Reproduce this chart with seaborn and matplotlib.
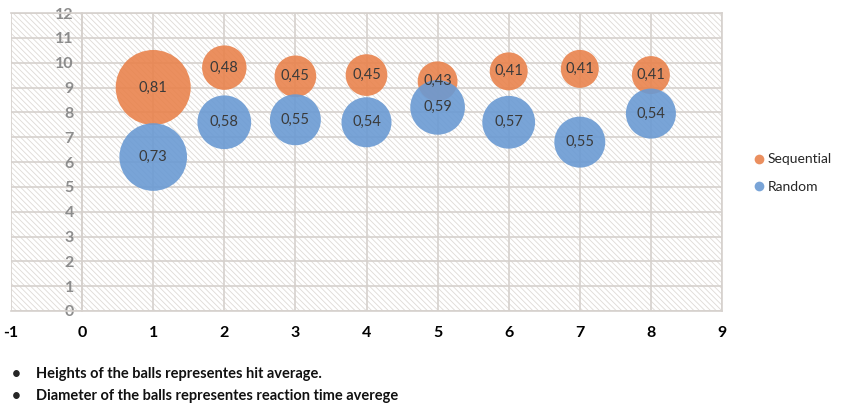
import matplotlib.pyplot as plt
import seaborn as sns
import pandas as pd
from matplotlib.lines import Line2D

# data
trials = [1, 2, 3, 4, 5, 6, 7, 8]
seq_hit = [9.0, 9.8, 9.45, 9.5, 9.25, 9.65, 9.75, 9.5]
seq_rt = [0.81, 0.48, 0.45, 0.45, 0.43, 0.41, 0.41, 0.41]
rnd_hit = [6.2, 7.6, 7.7, 7.6, 8.2, 7.6, 6.8, 7.95]
rnd_rt = [0.73, 0.58, 0.55, 0.54, 0.59, 0.57, 0.55, 0.54]
series_names = ['Sequential', 'Random']
colors = {'Sequential': '#E9834D', 'Random': '#6A9AD3'}
notes = ['Heights of the balls representes hit average.',
         'Diameter of the balls representes reaction time averege']

df = pd.concat([
    pd.DataFrame({'series': 'Sequential', 'trial': trials, 'hit': seq_hit, 'rt': seq_rt}),
    pd.DataFrame({'series': 'Random', 'trial': trials, 'hit': rnd_hit, 'rt': rnd_rt}),
], ignore_index=True)

sns.set_style('white')
plt.rcParams['font.family'] = ['Lato', 'DejaVu Sans']
plt.rcParams['hatch.linewidth'] = 0.6
plt.rcParams['axes.unicode_minus'] = False

fig = plt.figure(figsize=(8.42, 4.08), dpi=100)
ax = fig.add_axes([11 / 842, 97 / 408, 711 / 842, 298 / 408])

# hatched plot area like the Excel chart
ax.patch.set_facecolor('white')
ax.patch.set_hatch('\\\\\\\\\\\\')
ax.patch.set_edgecolor('#dedad6')
ax.patch.set_linewidth(0)

# bubble diameter proportional to reaction time
size_map = {v: (v * 66.7) ** 2 for v in df['rt'].unique()}
sns.scatterplot(data=df, x='trial', y='hit', hue='series', size='rt',
                sizes=size_map, palette=colors, alpha=0.9, edgecolor='none',
                legend=False, ax=ax, zorder=3)

for _, row in df.iterrows():
    ax.text(row['trial'], row['hit'], f"{row['rt']:.2f}".replace('.', ','),
            ha='center', va='center', fontsize=10.5, color='#3a3a3a', zorder=4)

ax.set_xlim(-1, 9)
ax.set_ylim(0, 12)
ax.set_xticks(range(-1, 10))
ax.set_yticks(range(0, 13))
ax.grid(True, color='#d6d1cd', linewidth=1.2, zorder=0)
ax.set_axisbelow(True)
ax.set_xlabel('')
ax.set_ylabel('')

for s in ax.spines.values():
    s.set_color('#d6d1cd')
    s.set_linewidth(1.2)
ax.spines['left'].set_position(('data', 0))

ax.tick_params(axis='both', length=0)
ax.tick_params(axis='y', pad=6, labelsize=11.5, labelcolor='#8c8c8c')
ax.tick_params(axis='x', pad=11, labelsize=11.5, labelcolor='black')
for t in ax.get_yticklabels():
    t.set_fontweight('bold')
for t in ax.get_xticklabels():
    t.set_fontweight('bold')

handles = [Line2D([], [], marker='o', linestyle='', markersize=7,
                  markerfacecolor=colors[n], markeredgecolor='none', alpha=0.9)
           for n in series_names]
fig.legend(handles, series_names, loc='center left',
           bbox_to_anchor=(740 / 842, 1 - 173 / 408), frameon=False,
           fontsize=10, handletextpad=0.1, labelspacing=1.1, handlelength=1.0)

for i, note in enumerate(notes):
    y = 1 - (374 + 22 * i) / 408
    fig.text(12 / 842, y, '\u2022', fontsize=11, fontweight='bold', va='center')
    fig.text(36 / 842, y, note, fontsize=10.5, fontweight='bold', va='center',
             color='#111111')

plt.savefig('out.png', dpi=100)
plt.close()
